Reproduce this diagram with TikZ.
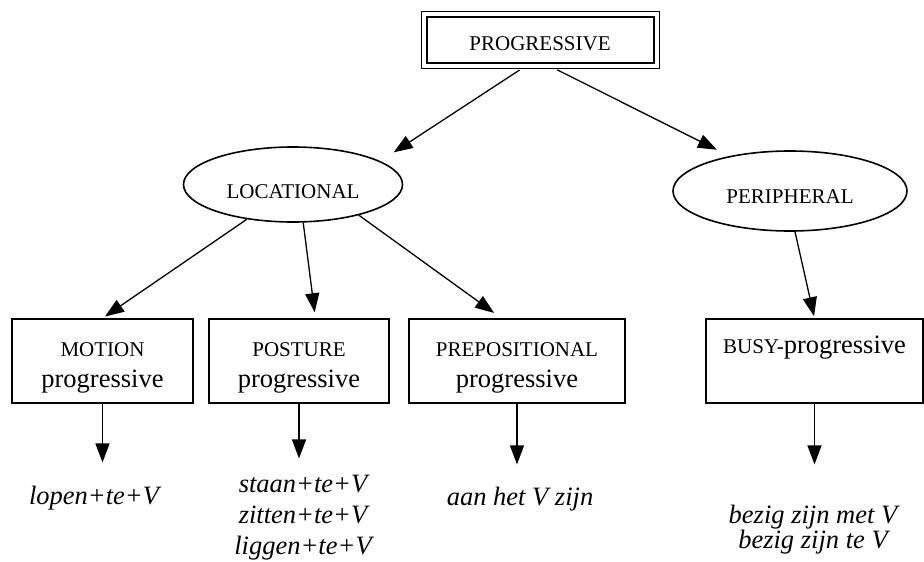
\documentclass[tikz,border=0pt]{standalone}
\usepackage{fontspec}
\setmainfont{Liberation Serif}
\usetikzlibrary{arrows.meta,shapes.geometric,fit}

\newcommand{\capsz}{\fontsize{21}{25}\selectfont}
\newcommand{\lowsz}{\fontsize{26.5}{32}\selectfont}

\tikzset{
  catbox/.style={draw, line width=1.6pt, rectangle, inner sep=0pt, align=center, minimum height=84pt,
                 font=\lowsz, text height=52pt, text depth=0pt},
  catoval/.style={draw, line width=1.6pt, ellipse, inner sep=0pt, font=\capsz, text height=27pt, text depth=0pt},
  example/.style={font=\lowsz\itshape, align=center, inner sep=0pt, anchor=base},
  arr/.style={line width=1.3pt, -{Triangle[length=19pt,width=14pt]}},
}

\begin{document}
\begin{tikzpicture}[x=1pt, y=-1pt]
    \useasboundingbox (0,0) rectangle (924,562);

    % Top node
    \node[draw, line width=2pt, minimum width=227pt, minimum height=46pt, inner sep=0pt,
          font=\capsz, text height=20pt, text depth=0pt] (progressive) at (540,40) {PROGRESSIVE};
    \node[draw, line width=0.9pt, inner sep=4.5pt, fit=(progressive)] (progframe) {};

    % Second level
    \node[catoval, minimum width=219pt, minimum height=75pt] (locational) at (293,184.5) {LOCATIONAL};
    \node[catoval, minimum width=234pt, minimum height=80pt, text height=24pt] (peripheral) at (790,191) {PERIPHERAL};

    % Progressive types
    \node[catbox, minimum width=181pt] (motion) at (102.5,361) {{\capsz MOTION}\\[-1pt]progressive};
    \node[catbox, minimum width=180pt] (posture) at (299,361) {{\capsz POSTURE}\\[-1pt]progressive};
    \node[catbox, minimum width=216pt] (prepositional) at (517,361) {{\capsz PREPOSITIONAL}\\[-1pt]progressive};
    \node[catbox, minimum width=217pt, text height=20pt, text depth=36pt] (busy) at (814.5,361) {{\capsz BUSY-}progressive};

    % Dutch forms
    \node[example] (lopen) at (94,504) {lopen+te+V};
    \node[example] (staan) at (303,554) {staan+te+V\\[-1pt]zitten+te+V\\[-1pt]liggen+te+V};
    \node[example] (aanhet) at (520,505) {aan het V zijn};
    \node[example] (bezig) at (813,548) {bezig zijn met V\\[-7pt]bezig zijn te V};

    % Arrows
    \draw[arr, shorten <=2pt, shorten >=16pt] (progframe.237) -- (locational.15);
    \draw[arr, shorten <=2pt, shorten >=14pt] (progframe.-62) -- (peripheral.150);
    \draw[arr, shorten >=3pt] (locational.217) -- (motion.north);
    \draw[arr, shorten >=6pt] (locational.-75) -- (posture.69);
    \draw[arr, shorten >=9pt] (locational.-25) -- (prepositional.110);
    \draw[arr, shorten >=2pt] (peripheral.-83) -- (busy.north);

    \draw[arr, shorten >=23pt] (motion) -- (motion |- lopen.north);
    \draw[arr, shorten >=16pt] (posture) -- (posture |- staan.north);
    \draw[arr, shorten >=22pt] (prepositional) -- (prepositional |- aanhet.north);
    \draw[arr, shorten >=40pt] (busy) -- (busy |- bezig.north);

\end{tikzpicture}
\end{document}
